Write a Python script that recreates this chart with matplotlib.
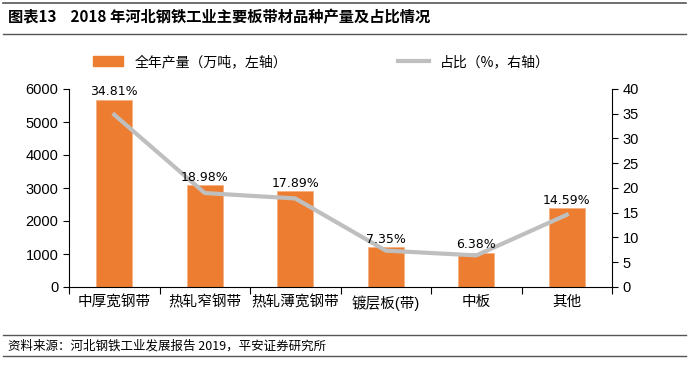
import numpy as np
import matplotlib.pyplot as plt
from matplotlib.lines import Line2D
from matplotlib.patches import Patch

plt.rcParams['font.family'] = ['Liberation Sans', 'Noto Sans CJK SC', 'DejaVu Sans']

# 数据
categories = ['中厚宽钢带', '热轧窄钢带', '热轧薄宽钢带', '镀层板(带)', '中板', '其他']
output = [5680, 3090, 2910, 1200, 1040, 2385]
share = [34.81, 18.98, 17.89, 7.35, 6.38, 14.59]
share_labels = ['34.81%', '18.98%', '17.89%', '7.35%', '6.38%', '14.59%']

orange = '#ED7D31'
gray = '#BFBFBF'

fig = plt.figure(figsize=(6.89, 3.70), dpi=100)
ax = fig.add_axes([69 / 689, 1 - 287 / 370, (612 - 69) / 689, (287 - 89) / 370])
ax2 = ax.twinx()

x = np.arange(len(categories))
ax.bar(x, output, 0.4, color=orange, edgecolor='#F4B183', linewidth=0.6, zorder=2)
ax2.plot(x, share, color=gray, linewidth=3, zorder=3)

# 标签画在折线之上
for i in range(len(categories)):
    ax2.text(x[i], output[i] + 40, share_labels[i], ha='center', va='bottom',
             fontsize=9, family=['DejaVu Sans'], zorder=5, transform=ax.transData)

ax.set_xlim(-0.5, len(categories) - 0.5)
ax.set_ylim(0, 6000)
ax2.set_ylim(0, 40)
ax.set_yticks(range(0, 6001, 1000))
ax2.set_yticks(range(0, 41, 5))

ax.set_xticks(x)
ax.set_xticklabels(categories, fontsize=10.5)
ax.tick_params(axis='x', which='major', length=0, pad=6)
ax.set_xticks(np.arange(-0.5, len(categories), 1), minor=True)
ax.tick_params(axis='x', which='minor', length=5, width=0.8, direction='out')
ax.tick_params(axis='y', labelsize=10.5, length=4, width=0.8, direction='out')
ax2.tick_params(axis='y', labelsize=10.5, length=4, width=0.8, direction='out')

for a in (ax, ax2):
    a.spines['top'].set_visible(False)
    a.spines['left'].set_linewidth(0.8)
    a.spines['right'].set_linewidth(0.8)
    a.spines['bottom'].set_linewidth(0.8)
ax.spines['right'].set_visible(False)
ax2.spines['left'].set_visible(False)
ax2.spines['bottom'].set_visible(False)

# 图例
handles = [Patch(facecolor=orange, edgecolor=orange), Line2D([0], [0], color=gray, linewidth=3)]
labels = ['全年产量（万吨，左轴）', '占比（%，右轴）']
fig.legend(handles, labels, loc='center', bbox_to_anchor=(0.466, 1 - 62 / 370), ncol=2,
           frameon=False, columnspacing=8, handlelength=2.2,
           prop={'family': ['Noto Sans CJK SC'], 'size': 10})

# 标题与来源
fig.add_artist(Line2D([0.005, 0.995], [1 - 2.5 / 370, 1 - 2.5 / 370], color='#555555', linewidth=1.2))
fig.add_artist(Line2D([0.005, 0.995], [1 - 34 / 370, 1 - 34 / 370], color='#555555', linewidth=1.0))
fig.text(0.012, 1 - 17 / 370, '图表13    2018 年河北钢铁工业主要板带材品种产量及占比情况',
         fontsize=11, fontweight='bold', va='center', family=['Noto Sans CJK SC'])
fig.add_artist(Line2D([0.005, 0.995], [1 - 335 / 370, 1 - 335 / 370], color='#555555', linewidth=1.0))
fig.add_artist(Line2D([0.005, 0.995], [1 - 356 / 370, 1 - 356 / 370], color='#555555', linewidth=1.0))
fig.text(0.012, 1 - 346 / 370, '资料来源：河北钢铁工业发展报告 2019，平安证券研究所',
         fontsize=9, style='italic', va='center', family=['Noto Sans CJK SC'])

fig.savefig('out.png', dpi=100)
